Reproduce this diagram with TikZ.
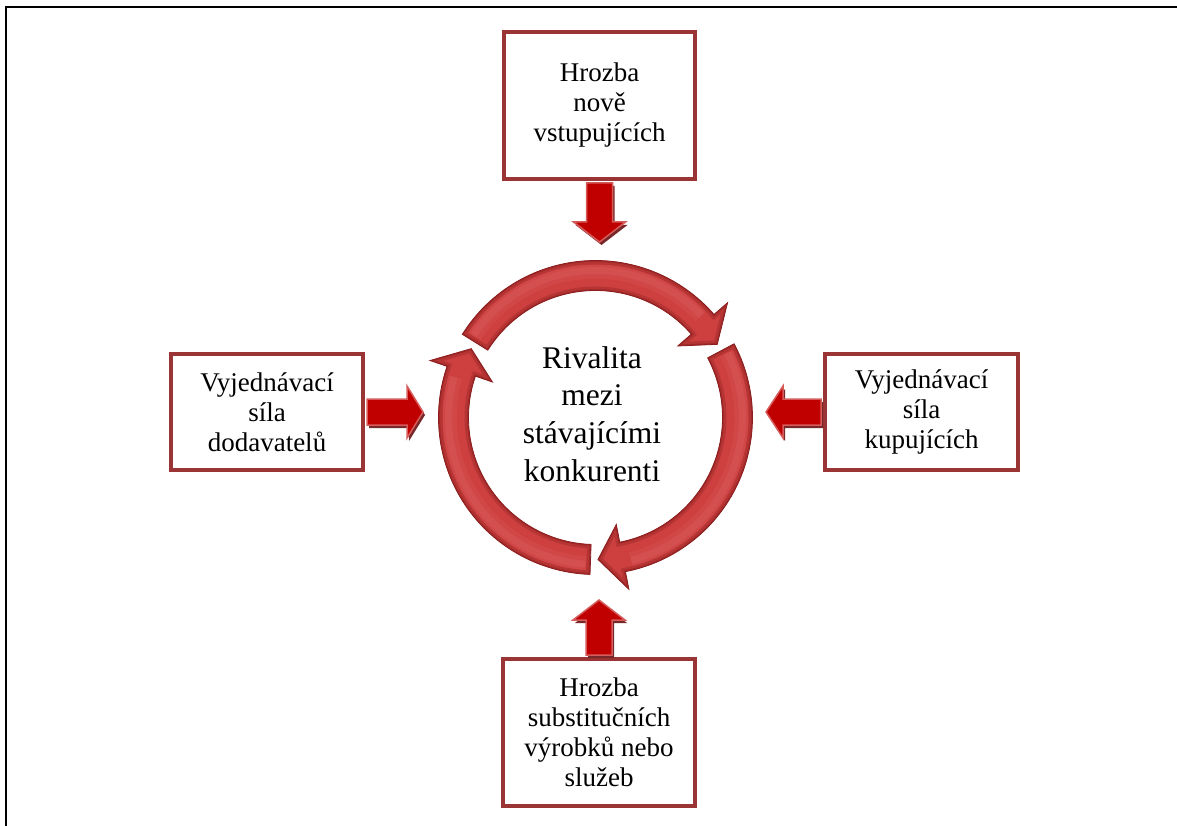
\documentclass[tikz,border=0pt]{standalone}
\usepackage{fontspec}
\setmainfont{Liberation Serif}
\usetikzlibrary{calc}

\definecolor{boxline}{RGB}{155,52,52}
\definecolor{blockred}{RGB}{192,0,0}
\definecolor{blockedge}{RGB}{214,92,92}
\definecolor{blockshade}{RGB}{120,40,40}
\definecolor{ringred}{RGB}{206,64,64}
\definecolor{ringdark}{RGB}{140,30,30}
\definecolor{ringlight}{RGB}{236,128,128}

% one curved arrow of the cycle; #1 = angle of its tail
\newcommand\ringpath[1]{%
  (#1:157) arc[start angle=#1, end angle={#1-107}, radius=157]
  -- ({#1-107}:175) -- ({#1-117}:142) -- ({#1-107}:109) -- ({#1-107}:127)
  arc[start angle={#1-107}, end angle=#1, radius=127] -- cycle}

% straight block arrow; #1 start, #2 rotation, #3 shaft length, #4 total length
\newcommand\blockpath[2]{%
  (0,-13) -- (#1,-13) -- (#1,-26) -- (#2,0) -- (#1,26) -- (#1,13) -- (0,13) -- cycle}
\newcommand\forcearrow[4]{%
  \begin{scope}[shift={($(#1)+(2,3)$)}, rotate=#2]
    \fill[blockshade] \blockpath{#3}{#4};
  \end{scope}
  \begin{scope}[shift={(#1)}, rotate=#2]
    \filldraw[fill=blockred, draw=blockedge, line width=1.5pt] \blockpath{#3}{#4};
  \end{scope}}

\tikzset{
  forcebox/.style={draw=boxline, line width=4pt, fill=white, align=center,
    inner sep=0pt, font=\fontsize{27}{30}\selectfont},
  centretext/.style={align=center, inner sep=0pt, font=\fontsize{31.5}{37.7}\selectfont}
}

\begin{document}
\begin{tikzpicture}[x=1pt, y=-1pt]
  \useasboundingbox (0,0) rectangle (1177,826);
  \fill[white] (0,0) rectangle (1177,826);

  % outer frame
  \draw[line width=2.2pt] (6,840) |- (1190,7);

  % the four forces
  \node[forcebox, minimum width=191pt, minimum height=147pt] (entrants) at (599.5,105.5)
    {Hrozba\\nově\\vstupujících};
  \node[forcebox, minimum width=192pt, minimum height=147pt] (substitutes) at (599,732.5)
    {Hrozba\\substitučních\\výrobků nebo\\služeb};
  \node[forcebox, minimum width=192pt, minimum height=116pt] (suppliers) at (267,412)
    {Vyjednávací\\síla\\dodavatelů};
  \node[forcebox, minimum width=193pt, minimum height=116pt] (buyers) at (921.5,412)
    {Vyjednávací\\síla\\kupujících};

  % rivalry in the middle
  \node[centretext] (rivalry) at (592,414) {Rivalita\\mezi\\stávajícími\\konkurenti};

  % cycle of three curved arrows
  \begin{scope}[shift={(595.5,417.5)}, yscale=-1]
    \foreach \t in {148,28,-92}{
      \begin{scope}
        \clip \ringpath{\t};
        \fill[ringred] \ringpath{\t};
        \draw[ringlight, line width=14pt, opacity=.12]
          ({\t-2}:146) arc[start angle={\t-2}, end angle={\t-104}, radius=146];
        \draw[ringlight, line width=7pt, opacity=.14]
          ({\t-2}:147) arc[start angle={\t-2}, end angle={\t-104}, radius=147];
        \draw[ringdark, line width=8pt, opacity=.35] \ringpath{\t};
        \draw[ringdark, line width=3pt, opacity=.45] \ringpath{\t};
      \end{scope}
      \draw[ringdark, line width=.8pt] \ringpath{\t};
    }
  \end{scope}

  % block arrows pointing at the rivalry
  \coordinate (entrantsfoot) at ($(entrants.south)+(0,2)$);
  \coordinate (substitutestop) at ($(substitutes.north)+(0,-2)$);
  \coordinate (suppliersside) at ($(suppliers.east)+(2,0)$);
  \coordinate (buyersside) at ($(buyers.west)+(-2,0)$);
  \forcearrow{entrantsfoot}{-90}{39}{59}
  \forcearrow{substitutestop}{90}{35}{55}
  \forcearrow{suppliersside}{0}{40}{56}
  \forcearrow{buyersside}{180}{38}{55}
\end{tikzpicture}
\end{document}
